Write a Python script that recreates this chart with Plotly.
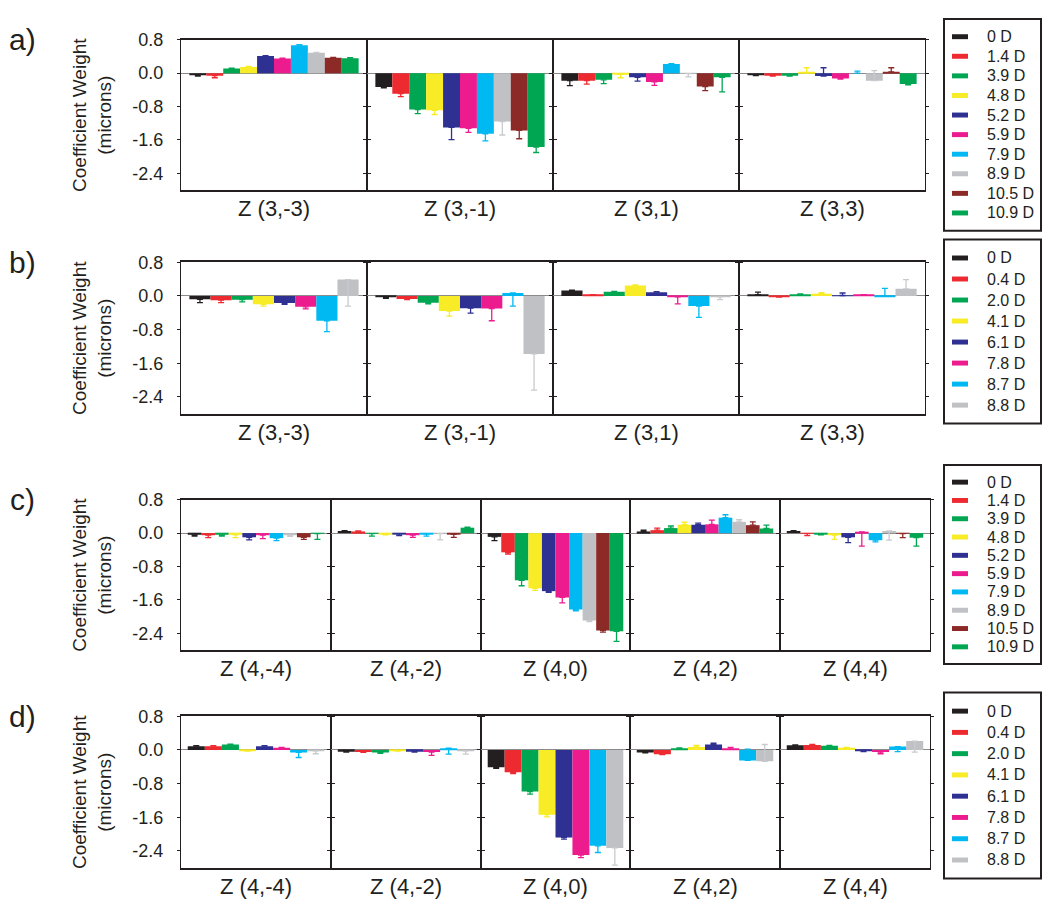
import plotly.graph_objects as go

# powers (diopters) used in each panel
powers_ac = ["0 D", "1.4 D", "3.9 D", "4.8 D", "5.2 D", "5.9 D", "7.9 D", "8.9 D", "10.5 D", "10.9 D"]
powers_bd = ["0 D", "0.4 D", "2.0 D", "4.1 D", "6.1 D", "7.8 D", "8.7 D", "8.8 D"]

colors = ["#231f20", "#ed2a30", "#00a651", "#f7ec26", "#2e3192", "#ec1c8f",
          "#00b9f2", "#bfc1c4", "#8b2a27", "#00a651"]

terms_ab = ["Z (3,-3)", "Z (3,-1)", "Z (3,1)", "Z (3,3)"]
terms_cd = ["Z (4,-4)", "Z (4,-2)", "Z (4,0)", "Z (4,2)", "Z (4,4)"]

# mean coefficient per term (rows) and power (columns)
a_vals = [
    [-0.05, -0.06, 0.11, 0.15, 0.41, 0.35, 0.67, 0.49, 0.37, 0.36],
    [-0.33, -0.49, -0.87, -0.89, -1.30, -1.32, -1.45, -1.16, -1.37, -1.77],
    [-0.18, -0.18, -0.16, -0.03, -0.10, -0.21, 0.22, -0.01, -0.32, -0.10],
    [-0.05, -0.06, -0.06, 0.01, -0.07, -0.13, 0.00, -0.18, 0.03, -0.26],
]
# error bar length, sign gives direction (+ up, - down)
a_errs = [
    [-0.02, -0.05, 0.01, 0.01, 0.01, 0.01, 0.01, 0.01, 0.01, 0.01],
    [-0.02, -0.07, -0.10, -0.10, -0.29, -0.10, -0.17, -0.32, -0.20, -0.13],
    [-0.12, -0.08, -0.09, -0.08, -0.09, -0.08, 0.01, -0.08, -0.10, -0.35],
    [-0.01, -0.01, -0.01, 0.12, 0.20, -0.01, 0.05, 0.24, 0.10, -0.02],
]

b_vals = [
    [-0.08, -0.10, -0.09, -0.20, -0.17, -0.26, -0.59, 0.39],
    [-0.03, -0.07, -0.16, -0.36, -0.29, -0.30, 0.07, -1.38],
    [0.13, 0.03, 0.10, 0.25, 0.09, -0.02, -0.24, -0.02],
    [0.03, -0.03, 0.02, 0.05, 0.01, 0.02, -0.01, 0.17],
]
b_errs = [
    [-0.08, -0.06, -0.05, -0.04, -0.03, -0.05, -0.26, -0.63],
    [-0.03, -0.02, -0.03, -0.12, -0.12, -0.29, -0.31, -0.86],
    [0.01, 0.00, 0.01, 0.01, 0.01, -0.17, -0.27, -0.07],
    [0.06, 0.01, 0.03, 0.03, 0.06, 0.01, 0.19, 0.22],
]

c_vals = [
    [-0.04, -0.05, -0.04, -0.04, -0.10, -0.05, -0.12, -0.05, -0.10, -0.01],
    [0.05, 0.04, -0.01, -0.02, -0.02, -0.05, -0.02, -0.01, -0.03, 0.13],
    [-0.09, -0.46, -1.13, -1.32, -1.39, -1.54, -1.83, -2.09, -2.33, -2.35],
    [0.04, 0.07, 0.12, 0.20, 0.20, 0.21, 0.37, 0.27, 0.19, 0.11],
    [0.05, -0.01, -0.02, -0.05, -0.10, 0.03, -0.17, 0.05, -0.01, -0.11],
]
c_errs = [
    [-0.03, -0.06, -0.03, -0.07, -0.06, -0.08, -0.06, -0.03, -0.05, -0.14],
    [0.01, 0.01, -0.06, -0.02, -0.04, -0.05, -0.05, -0.15, -0.07, 0.01],
    [-0.09, -0.04, -0.13, -0.05, -0.03, -0.13, -0.03, -0.03, -0.04, -0.24],
    [0.03, 0.05, 0.05, 0.06, 0.04, 0.10, 0.07, 0.05, 0.08, 0.08],
    [0.01, -0.05, -0.02, -0.10, -0.13, -0.34, -0.04, -0.22, -0.10, -0.20],
]

d_vals = [
    [0.09, 0.09, 0.13, -0.02, 0.09, 0.05, -0.06, -0.02],
    [-0.04, -0.05, -0.06, -0.02, -0.04, -0.05, 0.04, -0.02],
    [-0.41, -0.53, -0.99, -1.54, -2.08, -2.50, -2.28, -2.33],
    [-0.06, -0.10, 0.02, 0.07, 0.13, 0.02, -0.25, -0.27],
    [0.11, 0.12, 0.10, 0.05, -0.01, -0.05, 0.08, 0.21],
]
d_errs = [
    [0.01, 0.01, 0.01, -0.01, 0.01, 0.01, -0.12, -0.07],
    [-0.01, -0.01, -0.02, -0.01, -0.01, -0.08, -0.14, -0.08],
    [-0.03, -0.03, -0.06, -0.05, -0.04, -0.06, -0.16, -0.41],
    [-0.01, -0.01, 0.03, 0.04, 0.03, 0.04, 0.27, 0.40],
    [0.01, 0.01, 0.01, 0.01, -0.03, -0.04, -0.12, -0.26],
]

W, H = 1050, 919
OX, OY = 8, 12          # page offset of the plot div
FONT = "Liberation Sans, Arial, sans-serif"
INK = "#231f20"


def px(x):
    return (x - OX) / W


def py(y):
    return 1 - (y - OY) / H


# letter, terms, powers, values, errors, top, bottom, right edge, legend top, legend bottom
panels = [
    ("a)", terms_ab, powers_ac, a_vals, a_errs, 34, 186, 925, 13, 227),
    ("b)", terms_ab, powers_bd, b_vals, b_errs, 259, 412, 925, 236, 422),
    ("c)", terms_cd, powers_ac, c_vals, c_errs, 499, 651, 930, 464, 665),
    ("d)", terms_cd, powers_bd, d_vals, d_errs, 718, 871, 930, 694, 882),
]

fig = go.Figure()
layout = {}
annotations = []
shapes = []
n = 0
for p, (letter, terms, powers, vals, errs, top, bot, right, lt, lb) in enumerate(panels):
    left = 181
    cw = (right - left) / len(terms)
    for t, term in enumerate(terms):
        n += 1
        xname = "x" if n == 1 else f"x{n}"
        yname = "y" if n == 1 else f"y{n}"
        for k, pw in enumerate(powers):
            e = errs[t][k]
            ecol = "#c8cacd" if k == 7 else colors[k]
            fig.add_trace(go.Bar(
                x=[term], y=[vals[t][k]], name=pw,
                marker=dict(color=colors[k], line=dict(width=0)),
                error_y=dict(type="data", symmetric=False,
                             array=[max(e, 0)], arrayminus=[max(-e, 0)],
                             color=ecol, thickness=1.3, width=3),
                xaxis=xname, yaxis=yname, showlegend=False,
            ))
        c0 = left + round(t * cw)
        c1 = left + round((t + 1) * cw)
        layout["xaxis" if n == 1 else f"xaxis{n}"] = dict(
            domain=[px(c0), px(c1)], anchor=yname,
            type="category", showline=True, mirror=True, linecolor=INK, linewidth=2,
            ticks="", showgrid=False, showticklabels=False,
        )
        layout["yaxis" if n == 1 else f"yaxis{n}"] = dict(
            domain=[py(bot), py(top)], anchor=xname,
            range=[-2.8, 0.8], tickvals=[0.8, 0.0, -0.8, -1.6, -2.4],
            ticktext=["0.8", "0.0", "-0.8", "-1.6", "-2.4"],
            showticklabels=(t == 0), ticks="outside", ticklen=3, tickcolor=INK,
            showline=True, mirror="ticks", linecolor=INK, linewidth=1.3,
            showgrid=False, zeroline=True, zerolinecolor="#8a8a8a", zerolinewidth=1,
            tickfont=dict(family=FONT, size=18, color=INK), ticklabelstandoff=10,
        )
        # term name under each cell
        annotations.append(dict(
            text=term, x=px((c0 + c1) / 2), y=py(bot + 19), xref="paper", yref="paper",
            showarrow=False, xanchor="center", yanchor="middle",
            font=dict(family=FONT, size=22, color=INK),
        ))

    # legend box drawn by hand so the row spacing follows the original
    shapes.append(dict(type="rect", xref="paper", yref="paper",
                       x0=px(944), x1=px(1041), y0=py(lb), y1=py(lt),
                       line=dict(color=INK, width=2), fillcolor="white"))
    step = (lb - lt - 16) / len(powers)
    for k, pw in enumerate(powers):
        yc = lt + 8 + step * (k + 0.5)
        shapes.append(dict(type="rect", xref="paper", yref="paper",
                           x0=px(952), x1=px(968), y0=py(yc + 2.5), y1=py(yc - 2.5),
                           line=dict(width=0), fillcolor=colors[k]))
        annotations.append(dict(
            text=pw, x=px(985), y=py(yc), xref="paper", yref="paper",
            showarrow=False, xanchor="left", yanchor="middle",
            font=dict(family=FONT, size=16, color=INK),
        ))

    annotations.append(dict(
        text=letter, x=px(22), y=py(top), xref="paper", yref="paper",
        showarrow=False, xanchor="center", yanchor="middle",
        font=dict(family=FONT, size=30, color=INK),
    ))
    annotations.append(dict(
        text="Coefficient Weight<br>(microns)", x=px(92), y=py((top + bot) / 2),
        xref="paper", yref="paper", showarrow=False, textangle=-90,
        xanchor="center", yanchor="middle",
        font=dict(family=FONT, size=19, color=INK),
    ))

fig.update_layout(
    width=W, height=H,
    margin=dict(l=0, r=0, t=0, b=0),
    paper_bgcolor="white", plot_bgcolor="white",
    barmode="group", bargap=0.09, bargroupgap=0,
    showlegend=False,
    annotations=annotations, shapes=shapes,
    **layout,
)

fig.write_html("out.html")
